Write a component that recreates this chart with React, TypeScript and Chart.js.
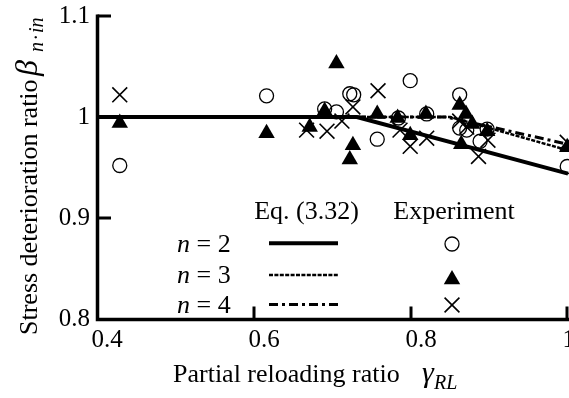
import { useEffect, useRef } from 'react';
import { Chart, registerables } from 'chart.js';

Chart.register(...registerables);

const SERIF = "'Liberation Serif', 'Times New Roman', serif";

// Axis ticks
const xTicks = [0.4, 0.6, 0.8, 1.0];
const yTicks = [0.8, 0.9, 1.0, 1.1];

// Eq. (3.32) prediction curves
const eqN2X = [0.4, 0.731, 1.0];
const eqN2Y = [1.0, 1.0, 0.944];
const eqN3X = [0.4, 0.85, 1.0];
const eqN3Y = [1.0, 1.0, 0.967];
const eqN4X = [0.4, 0.845, 1.0];
const eqN4Y = [1.0, 1.0, 0.973];

// Experiment, n = 2 (open circles)
const expN2X = [0.429, 0.616, 0.690, 0.705, 0.722, 0.727, 0.757, 0.784, 0.799, 0.820, 0.862, 0.862, 0.871, 0.888, 0.897, 0.999];
const expN2Y = [0.952, 1.021, 1.008, 1.005, 1.023, 1.022, 0.978, 0.999, 1.036, 1.003, 1.022, 0.989, 0.987, 0.976, 0.988, 0.951];

// Experiment, n = 3 (filled triangles)
const expN3X = [0.429, 0.616, 0.671, 0.690, 0.705, 0.722, 0.726, 0.757, 0.783, 0.799, 0.819, 0.862, 0.864, 0.870, 0.878, 0.897, 0.999];
const expN3Y = [0.994, 0.984, 0.990, 1.006, 1.053, 0.958, 0.972, 1.003, 0.999, 0.982, 1.003, 1.012, 0.973, 1.003, 0.993, 0.986, 0.970];

// Experiment, n = 4 (crosses)
const expN4X = [0.429, 0.667, 0.693, 0.712, 0.726, 0.758, 0.786, 0.799, 0.820, 0.862, 0.871, 0.886, 0.898, 0.999];
const expN4Y = [1.022, 0.987, 0.986, 0.996, 1.010, 1.026, 0.987, 0.971, 0.979, 0.996, 0.990, 0.961, 0.977, 0.975];

const zip = (xs: number[], ys: number[]) => xs.map((x, i) => ({ x, y: ys[i] }));
const tickLabel = (v: any) => String(Math.round(Number(v) * 10) / 10);

const CIRCLE_R = 7;
const TRI_R = 9.5;
const CROSS_R = 10.5;

function drawMarker(ctx: CanvasRenderingContext2D, kind: string, x: number, y: number) {
  ctx.save();
  ctx.strokeStyle = '#000';
  ctx.fillStyle = '#000';
  if (kind === 'circle') {
    ctx.lineWidth = 1.3;
    ctx.beginPath();
    ctx.arc(x, y, CIRCLE_R, 0, Math.PI * 2);
    ctx.stroke();
  } else if (kind === 'triangle') {
    const h = TRI_R * Math.sin(Math.PI / 3);
    ctx.beginPath();
    ctx.moveTo(x, y - TRI_R);
    ctx.lineTo(x - h, y + TRI_R / 2);
    ctx.lineTo(x + h, y + TRI_R / 2);
    ctx.closePath();
    ctx.fill();
  } else {
    const d = CROSS_R * Math.SQRT1_2;
    ctx.lineWidth = 1.6;
    ctx.beginPath();
    ctx.moveTo(x - d, y - d);
    ctx.lineTo(x + d, y + d);
    ctx.moveTo(x - d, y + d);
    ctx.lineTo(x + d, y - d);
    ctx.stroke();
  }
  ctx.restore();
}

// Axis lines, inward tick marks and x tick labels
const axesPlugin = {
  id: 'axesFrame',
  afterDraw(chart: any) {
    const { ctx, chartArea, scales } = chart;
    const xs = scales.x;
    const ys = scales.y;
    const left = chartArea.left + 0.5;
    const bottom = chartArea.bottom + 0.5;
    ctx.save();
    ctx.strokeStyle = '#000';
    ctx.lineWidth = 3.5;
    ctx.lineCap = 'butt';
    ctx.beginPath();
    ctx.moveTo(left, ys.getPixelForValue(1.1) - 1.5);
    ctx.lineTo(left, bottom + 1.75);
    ctx.moveTo(left - 1.75, bottom);
    ctx.lineTo(chart.width + 2, bottom);
    ctx.stroke();
    ctx.lineWidth = 3;
    ctx.beginPath();
    yTicks.forEach((v) => {
      if (v === yTicks[0]) return;
      const py = ys.getPixelForValue(v);
      ctx.moveTo(left, py);
      ctx.lineTo(left + 13.5, py);
    });
    xTicks.forEach((v) => {
      if (v === xTicks[0]) return;
      const px = Math.min(xs.getPixelForValue(v), chart.width - 2);
      ctx.moveTo(px, bottom);
      ctx.lineTo(px, bottom - 13);
    });
    ctx.stroke();

    // x tick labels, left-aligned just before each tick
    ctx.fillStyle = '#000';
    ctx.font = `25px ${SERIF}`;
    ctx.textAlign = 'left';
    ctx.textBaseline = 'alphabetic';
    xTicks.forEach((v) => {
      ctx.fillText(tickLabel(v), xs.getPixelForValue(v) - 5.5, 347);
    });
    ctx.restore();
  },
};

// Axis titles with Greek symbols and subscripts
const titlesPlugin = {
  id: 'axisTitles',
  afterDraw(chart: any) {
    const { ctx } = chart;
    ctx.save();
    ctx.fillStyle = '#000';
    ctx.textBaseline = 'alphabetic';
    ctx.textAlign = 'left';

    // x title
    ctx.font = `26px ${SERIF}`;
    ctx.fillText('Partial reloading ratio', 173, 381.5);
    ctx.font = `italic 30px ${SERIF}`;
    ctx.fillText('\u03b3', 422, 381.5);
    ctx.font = `italic 20px ${SERIF}`;
    ctx.fillText('RL', 434, 388.5);

    // y title (rotated)
    ctx.translate(36.5, 335);
    ctx.rotate(-Math.PI / 2);
    ctx.font = `26px ${SERIF}`;
    ctx.fillText('Stress deterioration ratio', 0, 0);
    ctx.font = `italic 32px ${SERIF}`;
    ctx.fillText('\u03b2', 259, 0);
    ctx.font = `italic 20px ${SERIF}`;
    ctx.fillText('n', 283, 6.5);
    ctx.fillText('\u00b7', 295, 6.5);
    ctx.fillText('in', 302, 6.5);
    ctx.restore();
  },
};

// Legend table: Eq. (3.32) lines and experiment markers
const legendPlugin = {
  id: 'tableLegend',
  afterDraw(chart: any) {
    const { ctx } = chart;
    ctx.save();
    ctx.fillStyle = '#000';
    ctx.textBaseline = 'alphabetic';
    ctx.font = `26px ${SERIF}`;
    ctx.textAlign = 'center';
    ctx.fillText('Eq. (3.32)', 306.5, 218.5);
    ctx.fillText('Experiment', 454, 218.5);
    ctx.textAlign = 'left';

    const rows = [
      { n: '2', base: 251.5, ly: 243.3, dash: [] as number[], lw: 4, marker: 'circle', my: 244 },
      { n: '3', base: 282.5, ly: 275, dash: [4, 1.4], lw: 2.5, marker: 'triangle', my: 279.5 },
      { n: '4', base: 313, ly: 304.5, dash: [9, 4, 3, 4], lw: 3, marker: 'crossRot', my: 305 },
    ];
    rows.forEach((r) => {
      ctx.font = `italic 26px ${SERIF}`;
      ctx.fillText('n', 177, r.base);
      const nw = ctx.measureText('n').width;
      ctx.font = `26px ${SERIF}`;
      ctx.fillText(' = ' + r.n, 177 + nw, r.base);

      ctx.save();
      ctx.strokeStyle = '#000';
      ctx.lineWidth = r.lw;
      ctx.setLineDash(r.dash);
      ctx.beginPath();
      ctx.moveTo(269, r.ly);
      ctx.lineTo(338, r.ly);
      ctx.stroke();
      ctx.restore();

      drawMarker(ctx, r.marker, 452, r.my);
    });
    ctx.restore();
  },
};

export default function App() {
  const ref = useRef<HTMLCanvasElement | null>(null);

  useEffect(() => {
    const canvas = ref.current;
    if (!canvas) return;
    const chart = new Chart(canvas, {
      type: 'scatter',
      data: {
        datasets: [
          {
            type: 'line',
            label: 'Eq. (3.32) n = 2',
            data: zip(eqN2X, eqN2Y),
            borderColor: '#000',
            borderWidth: 4,
            pointRadius: 0,
            fill: false,
            order: 1,
          },
          {
            type: 'line',
            label: 'Eq. (3.32) n = 3',
            data: zip(eqN3X, eqN3Y),
            borderColor: '#000',
            borderWidth: 2.5,
            borderDash: [4, 1.4],
            pointRadius: 0,
            fill: false,
            order: 2,
          },
          {
            type: 'line',
            label: 'Eq. (3.32) n = 4',
            data: zip(eqN4X, eqN4Y),
            borderColor: '#000',
            borderWidth: 3,
            borderDash: [9, 4, 3, 4],
            pointRadius: 0,
            fill: false,
            order: 3,
          },
          {
            label: 'Experiment n = 2',
            data: zip(expN2X, expN2Y),
            pointStyle: 'circle',
            pointRadius: CIRCLE_R,
            borderColor: '#000',
            backgroundColor: 'rgba(0,0,0,0)',
            borderWidth: 1.3,
            order: 4,
          },
          {
            label: 'Experiment n = 3',
            data: zip(expN3X, expN3Y),
            pointStyle: 'triangle',
            pointRadius: TRI_R,
            borderColor: '#000',
            backgroundColor: '#000',
            borderWidth: 0,
            order: 5,
          },
          {
            label: 'Experiment n = 4',
            data: zip(expN4X, expN4Y),
            pointStyle: 'crossRot',
            pointRadius: CROSS_R,
            borderColor: '#000',
            backgroundColor: '#000',
            borderWidth: 1.6,
            order: 6,
          },
        ],
      },
      options: {
        animation: false,
        responsive: false,
        maintainAspectRatio: false,
        devicePixelRatio: 1,
        clip: false as any,
        layout: { autoPadding: false, padding: { top: 16, right: 1, left: 0, bottom: 0 } },
        plugins: {
          legend: { display: false },
          tooltip: { enabled: false },
          title: { display: false },
        },
        scales: {
          x: {
            type: 'linear',
            min: 0.4,
            max: 1.0,
            grid: { display: false, drawTicks: false },
            border: { display: false },
            afterBuildTicks: (s: any) => {
              s.ticks = xTicks.map((v) => ({ value: v }));
            },
            afterFit: (s: any) => {
              s.height = 79;
              s.paddingLeft = 0;
              s.paddingRight = 0;
            },
            ticks: { display: false },
          },
          y: {
            type: 'linear',
            min: 0.8,
            max: 1.1,
            grid: { display: false, drawTicks: false },
            border: { display: false },
            afterBuildTicks: (s: any) => {
              s.ticks = yTicks.map((v) => ({ value: v }));
            },
            afterFit: (s: any) => {
              s.width = 97;
              s.paddingTop = 0;
              s.paddingBottom = 0;
            },
            ticks: {
              color: '#000',
              font: { family: SERIF, size: 25 },
              padding: 7,
              autoSkip: false,
              callback: tickLabel,
            },
          },
        },
      } as any,
      plugins: [axesPlugin, titlesPlugin, legendPlugin],
    });
    return () => chart.destroy();
  }, []);

  return (
    <div style={{ position: 'absolute', left: 0, top: 0, width: 569, height: 398, background: '#fff' }}>
      <canvas ref={ref} width={569} height={398} style={{ display: 'block', width: 569, height: 398 }} />
    </div>
  );
}
